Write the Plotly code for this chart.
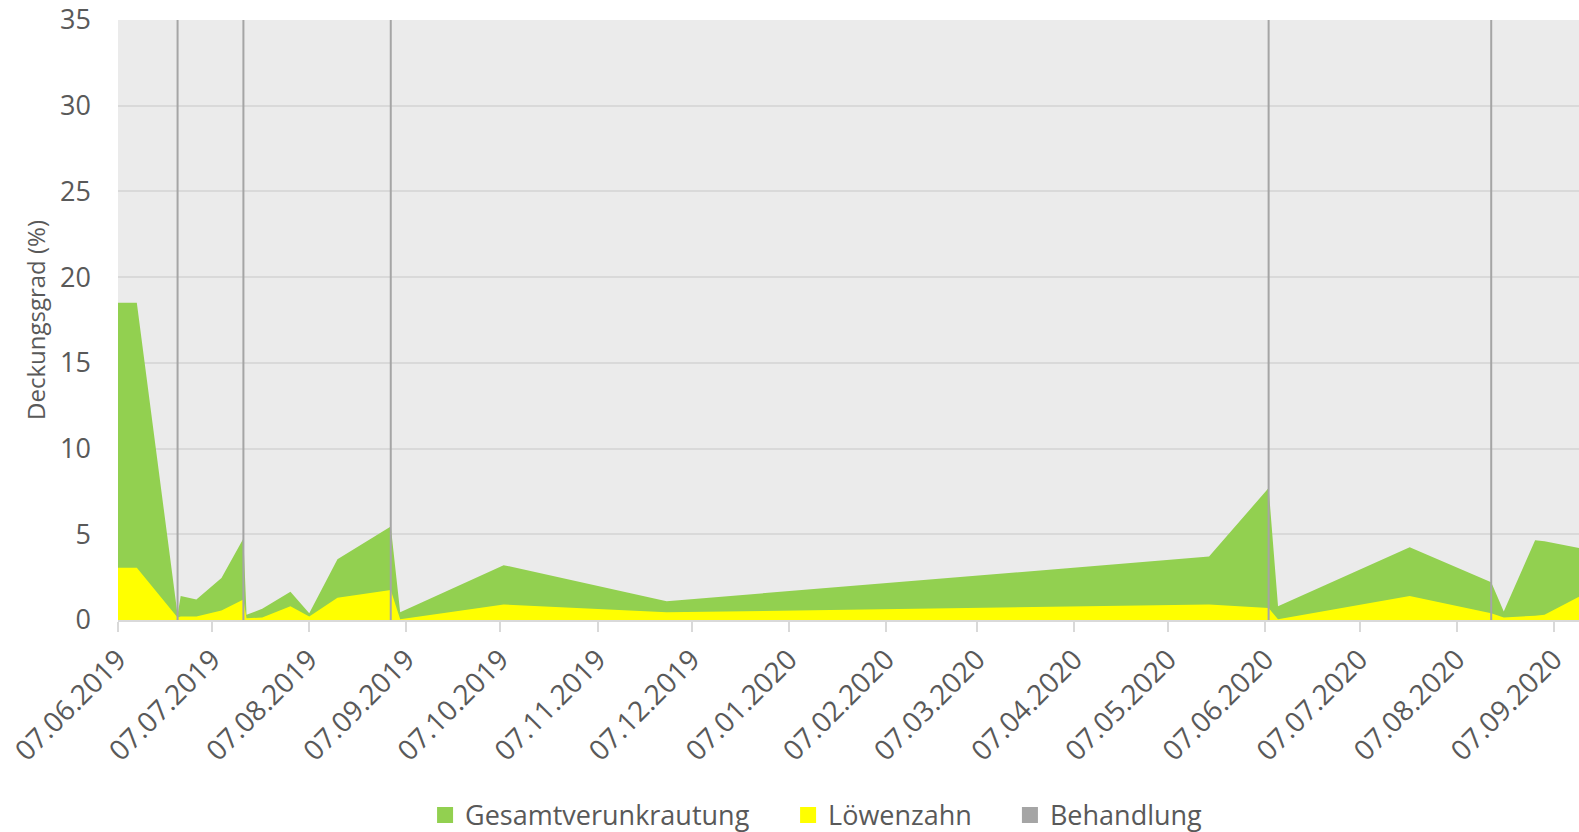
import plotly.graph_objects as go

# Survey dates and coverage values (%)
dates = ["2019-06-07", "2019-06-13", "2019-06-26", "2019-06-27", "2019-07-02",
         "2019-07-10", "2019-07-17", "2019-07-18", "2019-07-23", "2019-08-01",
         "2019-08-07", "2019-08-16", "2019-09-02", "2019-09-05", "2019-10-08",
         "2019-11-29", "2020-05-20", "2020-06-08", "2020-06-11", "2020-07-23",
         "2020-08-18", "2020-08-22", "2020-09-01", "2020-09-04", "2020-09-15"]
gesamtverunkrautung = [18.5, 18.5, 0.3, 1.4, 1.2, 2.45, 4.75, 0.3, 0.65, 1.65,
                       0.4, 3.55, 5.45, 0.45, 3.2, 1.1, 3.7, 7.7, 0.8, 4.25,
                       2.2, 0.5, 4.65, 4.6, 4.2]
loewenzahn = [3.05, 3.05, 0.15, 0.2, 0.2, 0.55, 1.2, 0.1, 0.15, 0.8,
              0.2, 1.3, 1.75, 0.05, 0.9, 0.45, 0.9, 0.7, 0.05, 1.4,
              0.4, 0.15, 0.25, 0.3, 1.35]

# Treatment dates
behandlung = ["2019-06-26", "2019-07-17", "2019-09-02", "2020-06-08", "2020-08-18"]

series_names = ["Gesamtverunkrautung", "Löwenzahn", "Behandlung"]
GREEN, YELLOW, GREY = "#92D050", "#FFFF00", "#A5A5A5"
TEXT = "#595959"
FONT = "Open Sans"
Y_MAX = 35

fig = go.Figure()

fig.add_trace(go.Scatter(
    x=dates, y=gesamtverunkrautung, mode="none", fill="tozeroy",
    fillcolor=GREEN, showlegend=False, name=series_names[0]))
fig.add_trace(go.Scatter(
    x=dates, y=loewenzahn, mode="none", fill="tozeroy",
    fillcolor=YELLOW, showlegend=False, name=series_names[1]))

# Vertical treatment markers spanning the full value axis
bx, by = [], []
for d in behandlung:
    bx += [d, d, None]
    by += [0, Y_MAX, None]
fig.add_trace(go.Scatter(
    x=bx, y=by, mode="lines", line=dict(color=GREY, width=2),
    showlegend=False, name=series_names[2], connectgaps=False))

# Square legend keys, each in its own legend box so the spacing can be set
legend_ids = ["legend", "legend2", "legend3"]
legend_x = [0.2692, 0.4991, 0.6396]
for name, col, lid in zip(series_names, [GREEN, YELLOW, GREY], legend_ids):
    fig.add_trace(go.Scatter(
        x=[None], y=[None], mode="markers", name=name, legend=lid,
        marker=dict(symbol="square", size=16, color=col)))

legend_style = dict(orientation="h", xref="container", yref="container",
                    y=0.02, xanchor="left", yanchor="middle",
                    font=dict(family=FONT, size=27, color=TEXT),
                    bgcolor="rgba(0,0,0,0)", itemclick=False)

fig.update_layout(
    width=1579, height=832,
    margin=dict(l=118, r=0, t=20, b=212, autoexpand=False),
    paper_bgcolor="white",
    plot_bgcolor="#EBEBEB",
    font=dict(family=FONT, size=27, color=TEXT),
    showlegend=True,
    legend=dict(x=legend_x[0], **legend_style),
    legend2=dict(x=legend_x[1], **legend_style),
    legend3=dict(x=legend_x[2], **legend_style),
)

fig.update_xaxes(
    type="date",
    range=["2019-06-07", "2020-09-15"],
    tick0="2019-06-07", dtick="M1", tickformat="%d.%m.%Y",
    tickangle=-45,
    ticks="outside", ticklen=10, tickwidth=2, tickcolor="#D9D9D9",
    showline=True, linecolor="#D9D9D9", linewidth=2,
    showgrid=False, zeroline=False, automargin=False,
    tickfont=dict(family=FONT, size=28, color=TEXT),
)
fig.update_yaxes(
    range=[0, Y_MAX], dtick=5, tick0=0,
    showgrid=True, gridcolor="#D9D9D9", gridwidth=2,
    zeroline=False, showline=False, automargin=False,
    ticks="", ticklabelstandoff=26,
    tickfont=dict(family=FONT, size=27, color=TEXT),
    title=dict(text="Deckungsgrad (%)", standoff=7,
               font=dict(family=FONT, size=24, color=TEXT)),
)

fig.write_html("out.html")
